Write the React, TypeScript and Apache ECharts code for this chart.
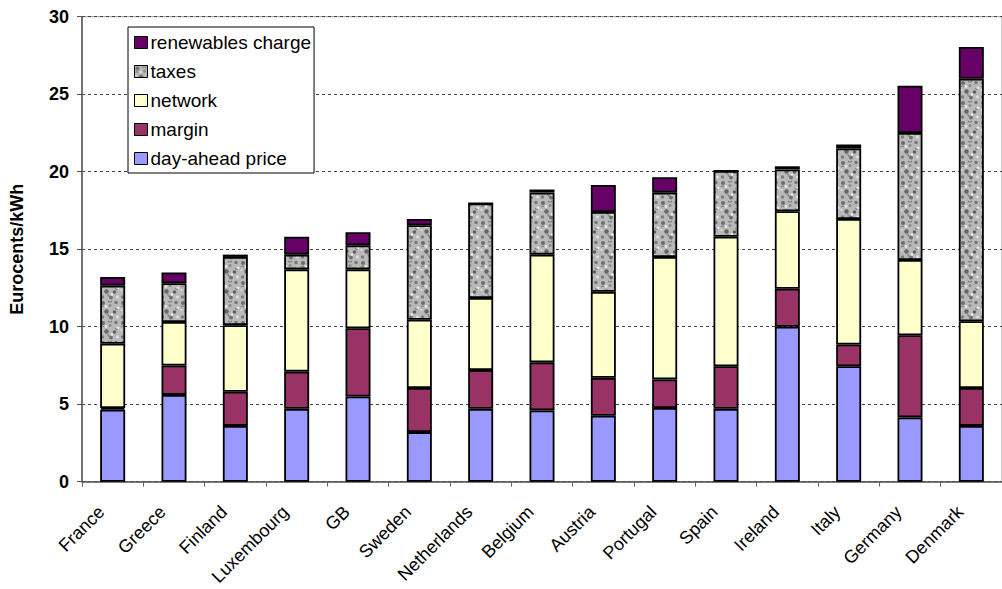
import React, { useEffect, useRef } from "react";
import * as echarts from "echarts";

const categories = ["France", "Greece", "Finland", "Luxembourg", "GB", "Sweden", "Netherlands", "Belgium", "Austria", "Portugal", "Spain", "Ireland", "Italy", "Germany", "Denmark"];
const dayAhead = [4.65, 5.6, 3.6, 4.7, 5.5, 3.2, 4.7, 4.6, 4.25, 4.75, 4.7, 10.0, 7.45, 4.15, 3.6];
const margin = [0.1, 1.9, 2.2, 2.4, 4.4, 2.85, 2.5, 3.1, 2.45, 1.85, 2.75, 2.45, 1.4, 5.3, 2.45];
const network = [4.15, 2.8, 4.3, 6.6, 3.8, 4.4, 4.65, 6.95, 5.55, 7.9, 8.35, 5.0, 8.1, 4.85, 4.3];
const taxes = [3.75, 2.5, 4.4, 0.95, 1.55, 6.1, 6.1, 4.0, 5.15, 4.15, 4.25, 2.7, 4.55, 8.2, 15.65];
const renewables = [0.55, 0.7, 0.15, 1.15, 0.85, 0.4, 0, 0.2, 1.75, 1.0, 0, 0.2, 0.25, 3.05, 2.05];
const yTicks = { min: 0, max: 30, interval: 5 };

const FONT = "'Liberation Sans', Arial, sans-serif";

const graniteTile =
  "<svg xmlns='http://www.w3.org/2000/svg' width='20' height='20'>" +
  "<rect width='20' height='20' fill='#b9b9b9'/>" +
  "<circle cx='3' cy='3' r='2' fill='#6c6c6c'/>" +
  "<circle cx='10' cy='5.5' r='1.5' fill='#8a8a8a'/>" +
  "<circle cx='16' cy='2.5' r='1.7' fill='#757575'/>" +
  "<circle cx='6.5' cy='11.5' r='2.2' fill='#666'/>" +
  "<circle cx='14.5' cy='12' r='1.8' fill='#606060'/>" +
  "<circle cx='2.5' cy='17' r='1.7' fill='#7c7c7c'/>" +
  "<circle cx='11' cy='17.5' r='1.9' fill='#707070'/>" +
  "<circle cx='18' cy='8' r='1.5' fill='#e9e9e9'/>" +
  "<circle cx='6' cy='6.5' r='1.4' fill='#e6e6e6'/>" +
  "<circle cx='12' cy='14.5' r='1.2' fill='#eeeeee'/>" +
  "<circle cx='17.5' cy='17' r='1.4' fill='#e2e2e2'/>" +
  "<circle cx='1.5' cy='10' r='1.1' fill='#dcdcdc'/>" +
  "<path d='M1 7 q2 -2 3 0 M8 1 q2 2 4 0 M15 8 q1 2 3 1 M7 15 q2 -1 2 2' stroke='#7f7f7f' stroke-width='1.1' fill='none'/>" +
  "</svg>";
const graniteUrl = "data:image/svg+xml;charset=utf-8," + encodeURIComponent(graniteTile);

export default function App() {
  const ref = useRef<HTMLDivElement>(null);
  useEffect(() => {
    if (!ref.current) return;
    const chart = echarts.init(ref.current, null, { renderer: "svg" });
    const border = { borderColor: "#000", borderWidth: 1.8 };
    const mk = (name: string, data: number[], color: any) => ({
      name,
      type: "bar",
      stack: "total",
      barWidth: 25,
      data,
      itemStyle: { color, ...border },
    });
    chart.setOption({
      animation: false,
      backgroundColor: "#fff",
      textStyle: { fontFamily: FONT },
      grid: {
        left: 75,
        top: 16.7,
        width: 937.5,
        height: 465,
        show: true,
        borderColor: "#999",
        borderWidth: 1,
        backgroundColor: "transparent",
      },
      legend: {
        orient: "vertical",
        left: 128,
        top: 27,
        padding: [6, 3, 5, 6],
        itemGap: 10,
        itemWidth: 13,
        itemHeight: 12,
        backgroundColor: "#fff",
        borderColor: "#000",
        borderWidth: 1,
        icon: "rect",
        itemStyle: { borderColor: "#000", borderWidth: 1 },
        textStyle: { fontFamily: FONT, fontSize: 19, color: "#000", lineHeight: 19, padding: [0, 0, 0, -2] },
        data: ["renewables charge", "taxes", "network", "margin", "day-ahead price"],
      },
      xAxis: {
        type: "category",
        data: categories,
        axisLine: { lineStyle: { color: "#555", width: 1.5 } },
        axisTick: { show: true, length: 5, lineStyle: { color: "#666" } },
        axisLabel: { rotate: 45, fontSize: 18, color: "#000", margin: 16, padding: [0, 16, 0, 0], fontFamily: FONT, interval: 0 },
      },
      yAxis: {
        type: "value",
        min: yTicks.min,
        max: yTicks.max,
        interval: yTicks.interval,
        name: "Eurocents/kWh",
        nameLocation: "middle",
        nameGap: 56,
        nameTextStyle: { fontSize: 18, fontWeight: "bold", color: "#000", fontFamily: FONT },
        axisLine: { show: true, lineStyle: { color: "#555", width: 1.5 } },
        axisTick: { show: true, length: 5, lineStyle: { color: "#555" } },
        axisLabel: { fontSize: 18, fontWeight: "bold", color: "#000", margin: 13, fontFamily: FONT },
        splitLine: { show: true, lineStyle: { color: "#444", width: 1, type: [3, 3] } },
      },
      series: [
        mk("day-ahead price", dayAhead, "#9999FF"),
        mk("margin", margin, "#993366"),
        mk("network", network, "#FFFFCC"),
        mk("taxes", taxes, { image: graniteUrl, repeat: "repeat", imageWidth: 20, imageHeight: 20 }),
        mk("renewables charge", renewables, "#660066"),
      ],
    });
    return () => chart.dispose();
  }, []);
  return <div ref={ref} style={{ position: "fixed", left: 0, top: 0, width: 1002, height: 589, background: "#fff" }} />;
}
